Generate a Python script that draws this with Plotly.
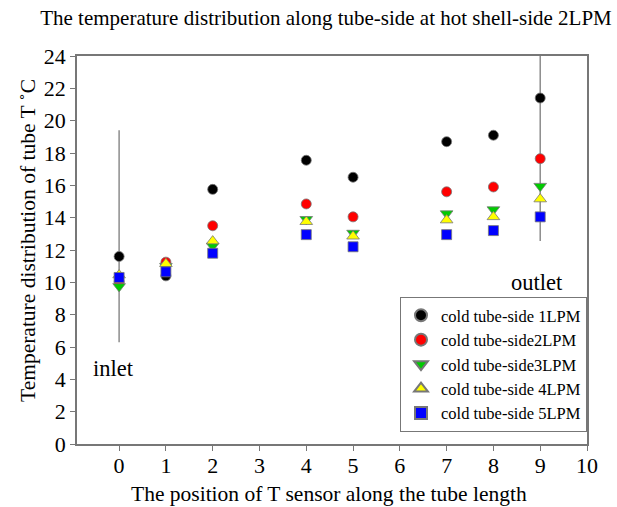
import plotly.graph_objects as go

positions = [0, 1, 2, 4, 5, 7, 8, 9]
t_1lpm = [11.6, 10.4, 15.75, 17.55, 16.5, 18.7, 19.1, 21.4]
t_2lpm = [10.0, 11.25, 13.5, 14.85, 14.05, 15.6, 15.9, 17.65]
t_3lpm = [9.75, 11.0, 12.25, 13.9, 13.05, 14.25, 14.5, 15.95]
t_4lpm = [10.45, 11.15, 12.55, 13.75, 12.85, 13.85, 14.05, 15.15]
t_5lpm = [10.3, 10.65, 11.8, 12.95, 12.2, 12.95, 13.2, 14.05]

series_names = ["cold tube-side 1LPM", "cold tube-side2LPM", "cold tube-side3LPM",
                "cold tube-side 4LPM", "cold tube-side 5LPM"]

# marker lines at inlet and outlet
inlet_x = [0, 0]
inlet_y = [19.4, 6.3]
outlet_x = [9, 9]
outlet_y = [24.3, 12.55]

x_ticks = list(range(0, 11))
y_ticks = list(range(0, 25, 2))

FONT = "Liberation Serif"

fig = go.Figure()

for xs, ys in [(inlet_x, inlet_y), (outlet_x, outlet_y)]:
    fig.add_trace(go.Scatter(x=xs, y=ys, mode="lines", showlegend=False,
                             line=dict(color="#8c8c8c", width=1.5), hoverinfo="skip"))

styles = [
    dict(symbol="circle", color="black", size=10),
    dict(symbol="circle", color="#ff0000", size=10),
    dict(symbol="triangle-down", color="#00cc00", size=11),
    dict(symbol="triangle-up", color="#ffff00", size=11),
    dict(symbol="square", color="#0000ff", size=10),
]
for name, ys, st in zip(series_names, [t_1lpm, t_2lpm, t_3lpm, t_4lpm, t_5lpm], styles):
    fig.add_trace(go.Scatter(
        x=positions, y=ys, mode="markers", name=name,
        marker=dict(symbol=st["symbol"], color=st["color"], size=st["size"],
                    line=dict(color="#777777", width=0.8)),
    ))

PLOT_H = 388.0
PLOT_W = 510.0

fig.update_layout(
    width=617, height=507,
    margin=dict(l=77, r=30, t=56, b=63),
    paper_bgcolor="white", plot_bgcolor="white",
    font=dict(family=FONT, size=21, color="black"),
    title=dict(text="The temperature distribution along tube-side at hot shell-side 2LPM",
               x=326 / 617, xanchor="center", y=1 - 18 / 507, yanchor="middle",
               font=dict(family=FONT, size=21, color="black")),
    xaxis=dict(range=[-0.9, 10], tickmode="array", tickvals=x_ticks,
               ticks="outside", ticklen=5, tickcolor="#777777",
               tickfont=dict(family=FONT, size=22), ticklabelstandoff=-4,
               showline=True, linecolor="#777777", linewidth=1.5, mirror=True,
               showgrid=False, zeroline=False),
    yaxis=dict(range=[0, 24], tickmode="array", tickvals=y_ticks,
               ticks="outside", ticklen=5, tickcolor="#777777",
               tickfont=dict(family=FONT, size=22),
               showline=True, linecolor="#777777", linewidth=1.5, mirror=True,
               showgrid=False, zeroline=False),
    legend=dict(x=1, xanchor="right", y=(444 - 432) / PLOT_H, yanchor="bottom",
                bgcolor="white", bordercolor="#777777", borderwidth=1,
                font=dict(family=FONT, size=16.5), tracegroupgap=0,
                itemsizing="constant"),
    annotations=[
        dict(text="The position of T sensor along the tube length",
             xref="paper", yref="paper", x=(329 - 77) / PLOT_W, y=(444 - 494) / PLOT_H,
             xanchor="center", yanchor="middle", showarrow=False,
             font=dict(family=FONT, size=21.5)),
        dict(text="Temperature distribution of tube T ˚C",
             xref="paper", yref="paper", x=(28 - 77) / PLOT_W, y=(444 - 241) / PLOT_H,
             xanchor="center", yanchor="middle", textangle=-90, showarrow=False,
             font=dict(family=FONT, size=21.5)),
        dict(text="inlet", x=-0.13, y=4.7, xref="x", yref="y", showarrow=False,
             font=dict(family=FONT, size=22.5)),
        dict(text="outlet", x=8.94, y=9.96, xref="x", yref="y", showarrow=False,
             font=dict(family=FONT, size=22.5)),
    ],
)

fig.write_html("out.html", config={"displayModeBar": False},
               post_script="document.body.style.margin='0';document.body.style.overflow='hidden';")
